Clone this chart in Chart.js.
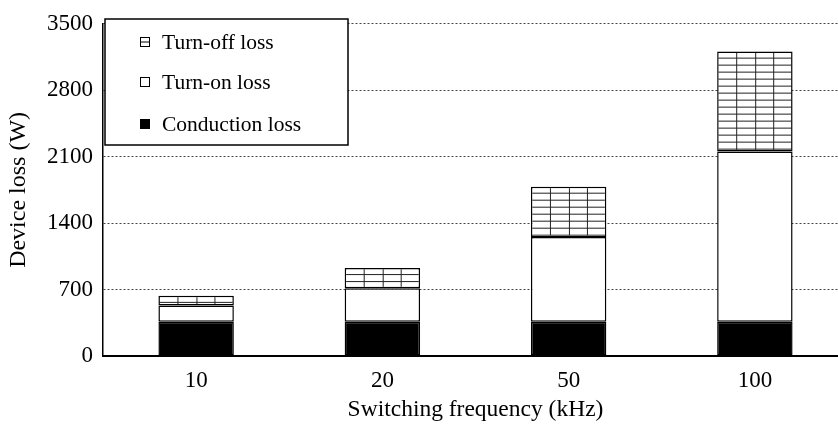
<!DOCTYPE html>
<html>
<head>
<meta charset="utf-8">
<script src="https://cdn.jsdelivr.net/npm/chart.js@4/dist/chart.umd.min.js"></script>
<style>
  html, body { margin: 0; padding: 0; overflow: hidden; background: #fff; }
  #contenedor { width: 848px; height: 427px; }
</style>
</head>
<body>
<div id="contenedor"><canvas id="grafico"></canvas></div>
<script>
// datos
const frecuencias = ["10", "20", "50", "100"];
const perdidaConduccion = [360, 362, 360, 360];
const perdidaEncendido = [173, 352, 893, 1795];
const perdidaApagado = [101, 213, 531, 1052];
const marcasY = [0, 700, 1400, 2100, 2800, 3500];

const fuente = "'Liberation Serif', 'Times New Roman', serif";
const ANCHO_BARRA = 0.405;

// trama de rejilla para la pérdida de apagado
function crearTrama(ancho, alto) {
    const c = document.createElement("canvas");
    c.width = Math.max(4, Math.round(ancho));
    c.height = alto;
    const g = c.getContext("2d");
    g.fillStyle = "#fff";
    g.fillRect(0, 0, c.width, alto);
    g.strokeStyle = "#222";
    g.lineWidth = 1;
    g.beginPath();
    for (let k = 1; k < 4; k++) {
        const x = Math.round(c.width * k / 4) + 0.5;
        g.moveTo(x, 0);
        g.lineTo(x, alto);
    }
    g.moveTo(0, alto - 0.5);
    g.lineTo(c.width, alto - 0.5);
    g.stroke();
    return c;
}

function fondoApagado(ctx) {
    const chart = ctx.chart;
    const xs = chart.scales.x;
    const ys = chart.scales.y;
    if (ctx.type !== "data" || !xs || !ys || !xs.width) return "#fff";
    const i = ctx.dataIndex;
    const ancho = xs.width / frecuencias.length * ANCHO_BARRA;
    const izq = xs.getPixelForValue(i) - ancho / 2;
    const total = perdidaConduccion[i] + perdidaEncendido[i] + perdidaApagado[i];
    const tope = ys.getPixelForValue(total);
    const patron = chart.ctx.createPattern(crearTrama(ancho, 7), "repeat");
    patron.setTransform(new DOMMatrix().translate(izq, tope));
    return patron;
}

// leyenda dentro del área del gráfico
const leyendaCaja = {
    id: "leyendaCaja",
    afterDatasetsDraw(chart) {
        const c = chart.ctx;
        c.save();
        c.fillStyle = "#fff";
        c.fillRect(105, 19, 243, 126);
        c.strokeStyle = "#000";
        c.lineWidth = 1.5;
        c.strokeRect(105, 19, 243, 126);

        const filas = [
            { ds: 2, y: 42 },
            { ds: 1, y: 82 },
            { ds: 0, y: 124 }
        ];
        c.font = "21.5px " + fuente;
        c.textBaseline = "middle";
        c.textAlign = "left";
        filas.forEach(f => {
            const x = 140.5, y = Math.round(f.y - 5) + 0.5, t = 9;
            c.lineWidth = 1;
            c.strokeStyle = "#000";
            if (f.ds === 0) {
                c.fillStyle = "#000";
                c.fillRect(x - 0.5, y - 0.5, t + 1, t + 1);
            } else {
                c.fillStyle = "#fff";
                c.fillRect(x, y, t, t);
                c.strokeRect(x, y, t, t);
                if (f.ds === 2) {
                    c.beginPath();
                    c.moveTo(x, y + 4.5);
                    c.lineTo(x + t, y + 4.5);
                    c.stroke();
                }
            }
            c.fillStyle = "#000";
            c.fillText(chart.data.datasets[f.ds].label, 162, f.y + 1);
        });
        c.restore();
    }
};

new Chart(document.getElementById("grafico"), {
    type: "bar",
    data: {
        labels: frecuencias,
        datasets: [
            {
                label: "Conduction loss",
                data: perdidaConduccion,
                backgroundColor: "#000",
                borderColor: "#000",
                borderWidth: 1.5,
                borderSkipped: false
            },
            {
                label: "Turn-on loss",
                data: perdidaEncendido,
                backgroundColor: "#fff",
                borderColor: "#000",
                borderWidth: 1.5,
                borderSkipped: false
            },
            {
                label: "Turn-off loss",
                data: perdidaApagado,
                backgroundColor: fondoApagado,
                borderColor: "#000",
                borderWidth: 1.5,
                borderSkipped: false
            }
        ]
    },
    options: {
        responsive: true,
        maintainAspectRatio: false,
        animation: false,
        devicePixelRatio: 1,
        layout: { padding: { top: 16, right: 0, left: 0, bottom: 0 } },
        datasets: { bar: { categoryPercentage: 1, barPercentage: ANCHO_BARRA } },
        plugins: {
            legend: { display: false },
            tooltip: { enabled: false },
            title: { display: false }
        },
        scales: {
            x: {
                stacked: true,
                offset: true,
                grid: { display: false, drawTicks: false },
                border: { display: true, color: "#000", width: 2 },
                ticks: {
                    color: "#000",
                    padding: 11,
                    font: { family: fuente, size: 23 }
                },
                title: {
                    display: true,
                    text: "Switching frequency (kHz)",
                    color: "#000",
                    font: { family: fuente, size: 23.5 },
                    padding: { top: 0, bottom: 3 }
                },
                afterFit(s) { s.height = 71; }
            },
            y: {
                stacked: true,
                min: 0,
                max: 3500,
                afterBuildTicks(s) { s.ticks = marcasY.map(v => ({ value: v })); },
                grid: { color: "#444", lineWidth: 1, drawTicks: false },
                border: { display: true, color: "#000", width: 1.5, dash: [2, 2] },
                ticks: {
                    color: "#000",
                    padding: 10,
                    font: { family: fuente, size: 23 },
                    callback: v => String(v)
                },
                title: {
                    display: true,
                    text: "Device loss (W)",
                    color: "#000",
                    font: { family: fuente, size: 24 },
                    padding: { top: 4.5, bottom: 0 }
                },
                afterFit(s) { s.width = 103; }
            }
        }
    },
    plugins: [leyendaCaja]
});
</script>
</body>
</html>
